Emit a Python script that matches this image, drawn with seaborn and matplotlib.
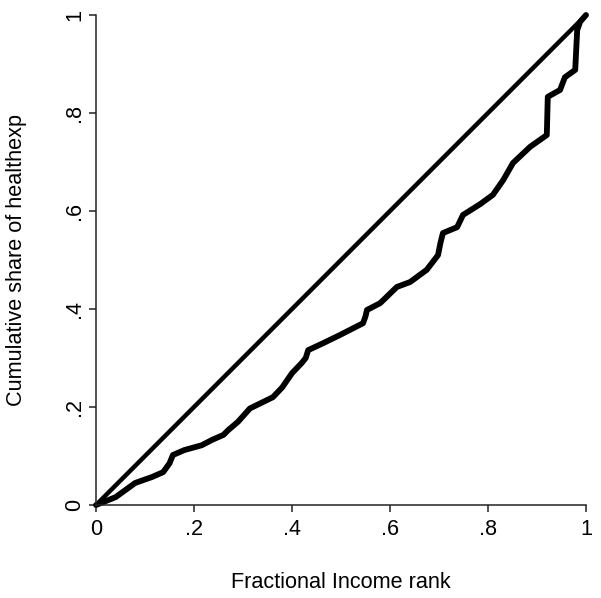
import matplotlib
matplotlib.use("Agg")
import matplotlib.pyplot as plt
import seaborn as sns
import pandas as pd

# Concentration curve
rank = [0.0, 0.04, 0.08, 0.114, 0.137, 0.150, 0.157, 0.18, 0.216, 0.237, 0.26, 0.27, 0.29,
        0.314, 0.361, 0.38, 0.40, 0.42, 0.428, 0.433, 0.463, 0.498, 0.545, 0.550, 0.553, 0.58,
        0.614, 0.641, 0.675, 0.698, 0.703, 0.708, 0.737, 0.749, 0.784, 0.81, 0.831, 0.851,
        0.886, 0.92, 0.922, 0.947, 0.957, 0.978, 0.982, 0.988, 1.0]
share = [0.0, 0.016, 0.045, 0.057, 0.067, 0.085, 0.102, 0.112, 0.122, 0.133, 0.143, 0.153, 0.17,
         0.197, 0.22, 0.24, 0.269, 0.29, 0.300, 0.316, 0.33, 0.347, 0.371, 0.385, 0.398, 0.412,
         0.445, 0.455, 0.48, 0.51, 0.535, 0.555, 0.567, 0.592, 0.614, 0.633, 0.663, 0.698,
         0.731, 0.755, 0.833, 0.847, 0.873, 0.888, 0.969, 0.986, 1.0]
equality = [0.0, 1.0]
tick_vals = [0, 0.2, 0.4, 0.6, 0.8, 1]
tick_labels = ["0", ".2", ".4", ".6", ".8", "1"]

sns.set_style("white")
plt.rcParams['font.family'] = ['Liberation Sans', 'DejaVu Sans']
plt.rcParams['text.color'] = 'black'
plt.rcParams['axes.labelcolor'] = 'black'

fig = plt.figure(figsize=(6.01, 5.98), dpi=100)
ax = fig.add_axes([96/601, 93/598, 490/601, 490/598])

curve = pd.DataFrame({"rank": rank, "share": share})
diag = pd.DataFrame({"rank": equality, "share": equality})
sns.lineplot(data=diag, x="rank", y="share", ax=ax, color="black", lw=3.2,
             estimator=None, sort=False)
sns.lineplot(data=curve, x="rank", y="share", ax=ax, color="black", lw=4.2,
             estimator=None, sort=False)

ax.set_xlim(0, 1)
ax.set_ylim(0, 1)
ax.set_xticks(tick_vals)
ax.set_xticklabels(tick_labels, fontsize=15.6)
ax.set_yticks(tick_vals)
ax.set_yticklabels(tick_labels, fontsize=15.6, rotation=90, va="center")
ax.tick_params(axis="both", direction="out", length=5, width=1.1, color="#222222",
               labelcolor="black", bottom=True, left=True)
ax.tick_params(axis="x", pad=5)
ax.tick_params(axis="y", pad=3)
for s in ["top", "right"]:
    ax.spines[s].set_visible(False)
for s in ["left", "bottom"]:
    ax.spines[s].set_color("#222222")
    ax.spines[s].set_linewidth(1.1)
ax.set_xlabel("Fractional Income rank", fontsize=15.6, color="black")
ax.set_ylabel("Cumulative share of healthexp", fontsize=15.6, color="black")
ax.xaxis.set_label_coords(0.5, -0.137)
ax.yaxis.set_label_coords(-0.141, 0.5)
for l in ax.lines:
    l.set_clip_on(False)

fig.savefig("out.png", dpi=100, facecolor="white")
